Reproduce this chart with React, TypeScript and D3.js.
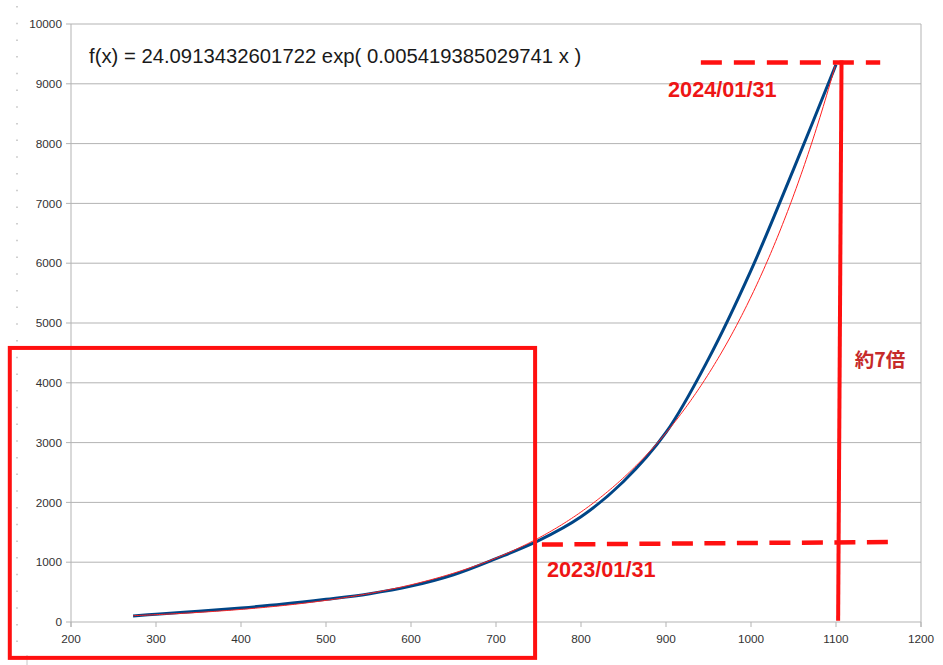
import * as d3 from "d3";

// blue series
const xs = [273, 300, 350, 400, 450, 500, 550, 600, 650, 700, 750, 800, 850, 900, 950, 1000, 1050, 1100];
const ys = [100, 130, 180, 235, 300, 380, 470, 600, 790, 1060, 1360, 1760, 2350, 3170, 4400, 5880, 7570, 9320];

const xTicks = [200, 300, 400, 500, 600, 700, 800, 900, 1000, 1100, 1200];
const yTicks = [0, 1000, 2000, 3000, 4000, 5000, 6000, 7000, 8000, 9000, 10000];

// exponential trend shown in the chart
const trendA = 24.0913432601722;
const trendB = 0.005419385029741;
const formulaLabel = "f(x) = 24.0913432601722 exp( 0.005419385029741 x )";

const labelFrom = "2023/01/31";
const labelTo = "2024/01/31";
const labelRatio = "約7倍";

const W = 943;
const H = 665;
const font = "'Liberation Sans', Arial, sans-serif";

export default function App() {
  const x = d3.scaleLinear().domain([200, 1200]).range([71, 921]);
  const y = d3.scaleLinear().domain([0, 10000]).range([622, 24]);

  const pts: [number, number][] = xs.map((v, i) => [v, ys[i]]);
  const line = d3
    .line<[number, number]>()
    .x(d => x(d[0]))
    .y(d => y(d[1]))
    .curve(d3.curveCatmullRom.alpha(0.5));

  const trendPts: [number, number][] = d3
    .range(xs[0], xs[xs.length - 1] + 0.1, 2)
    .map(v => [v, trendA * Math.exp(trendB * v)]);

  /* annotation geometry, in data units */
  const box = { x0: 128, x1: 746, y0: 4583, y1: -600 };
  const lowDash = { x0: 754, x1: 1161, y0: 1295, y1: 1338 };
  const topDash = { x0: 941, x1: 1152, y: 9355 };
  const vert = { xTop: 1106.5, yTop: 9390, xBot: 1102.5, yBot: 20 };

  const red = "#ff1010";

  return (
    <svg
      width={W}
      height={H}
      style={{ position: "absolute", left: 0, top: 0, background: "#fff" }}
      fontFamily={font}
    >
      <rect width={W} height={H} fill="#fff" />

      {/* page artefacts on the left */}
      <line x1={17} x2={17} y1={6} y2={H} stroke="#b0b0b0" strokeWidth={1.2} strokeDasharray="1.5 15.2" />
      <line x1={27} x2={27} y1={655} y2={H} stroke="#c8c8c8" strokeWidth={1} />

      {/* ---------------- GRID ---------------- */}
      {yTicks.map(t => (
        <g key={"y" + t}>
          <line x1={66} x2={921} y1={y(t)} y2={y(t)} stroke="#b3b3b3" strokeWidth={1} />
          <text x={62} y={y(t)} dy="0.35em" textAnchor="end" fontSize={11.8} fill="#333">
            {t}
          </text>
        </g>
      ))}
      <line x1={71} x2={71} y1={y(10000)} y2={627} stroke="#b3b3b3" strokeWidth={1} />
      <line x1={921} x2={921} y1={y(10000)} y2={627} stroke="#b3b3b3" strokeWidth={1} />
      {xTicks.map(t => (
        <g key={"x" + t}>
          <line x1={x(t)} x2={x(t)} y1={622} y2={627} stroke="#b3b3b3" strokeWidth={1} />
          <text x={x(t)} y={643} textAnchor="middle" fontSize={11.8} fill="#333">
            {t}
          </text>
        </g>
      ))}

      {/* ---------------- SERIES ---------------- */}
      <path d={line(pts) ?? ""} fill="none" stroke="#004586" strokeWidth={3} />
      <path d={line(trendPts) ?? ""} fill="none" stroke="#ff2020" strokeWidth={1} />

      <text x={89} y={63} fontSize={20.3} fill="#1a1a1a">
        {formulaLabel}
      </text>

      {/* ---------------- ANNOTATIONS ---------------- */}
      <rect
        x={x(box.x0)}
        y={y(box.y0)}
        width={x(box.x1) - x(box.x0)}
        height={y(box.y1) - y(box.y0)}
        fill="none"
        stroke={red}
        strokeWidth={4}
      />
      <line
        x1={x(lowDash.x0)}
        x2={x(lowDash.x1)}
        y1={y(lowDash.y0)}
        y2={y(lowDash.y1)}
        stroke={red}
        strokeWidth={4.5}
        strokeDasharray="21 11.5"
      />
      <line
        x1={x(topDash.x0)}
        x2={x(topDash.x1)}
        y1={y(topDash.y)}
        y2={y(topDash.y)}
        stroke={red}
        strokeWidth={4.5}
        strokeDasharray="21 12"
      />
      <line
        x1={x(vert.xTop)}
        x2={x(vert.xBot)}
        y1={y(vert.yTop)}
        y2={y(vert.yBot)}
        stroke={red}
        strokeWidth={4}
      />

      <text x={x(902.4)} y={y(8783)} fontSize={21.7} fontWeight="bold" fill="#ee1515">
        {labelTo}
      </text>
      <text x={x(760)} y={y(750)} fontSize={21.7} fontWeight="bold" fill="#ee1515">
        {labelFrom}
      </text>
      <text
        x={x(1122)}
        y={y(4267)}
        fontSize={19.5}
        fontWeight="bold"
        fill="#c62a2a"
        fontFamily="'Noto Sans CJK JP', 'Noto Sans', sans-serif"
      >
        {labelRatio}
      </text>
    </svg>
  );
}
